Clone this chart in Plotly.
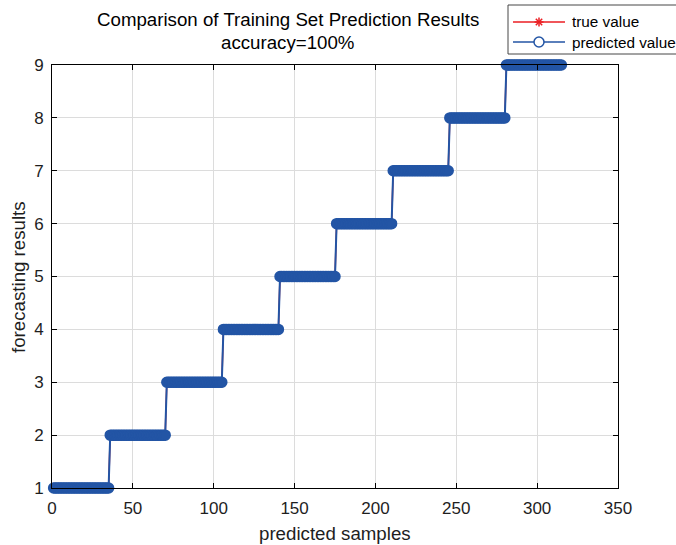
import numpy as np
import plotly.graph_objects as go

# Class labels and how many consecutive samples belong to each class
classes = [1, 2, 3, 4, 5, 6, 7, 8, 9]
class_counts = [35, 35, 35, 35, 35, 35, 35, 35, 35]

true_values = np.repeat(classes, class_counts)
predicted_values = np.repeat(classes, class_counts)  # accuracy = 100%
samples = np.arange(1, len(true_values) + 1)

x_ticks = [0, 50, 100, 150, 200, 250, 300, 350]
y_ticks = [1, 2, 3, 4, 5, 6, 7, 8, 9]

RED = "rgb(235,30,35)"
BLUE = "rgb(35,85,165)"
FONT = "Liberation Sans, Arial, Helvetica, sans-serif"

W, H = 676, 545
L, R, T, B = 52, 618, 65, 488   # plot area in pixels


def px(xp):
    """pixel x -> paper x"""
    return (xp - L) / (R - L)


def py(yp):
    """pixel y -> paper y"""
    return (B - yp) / (B - T)


fig = go.Figure()

# true value: red line with star markers
fig.add_trace(go.Scatter(
    x=samples, y=true_values, mode="lines+markers", cliponaxis=False,
    line=dict(color=RED, width=1.5),
    marker=dict(symbol="asterisk-open", size=7, color=RED, line=dict(color=RED, width=1)),
    showlegend=False,
))
# predicted value: blue line with circle markers
fig.add_trace(go.Scatter(
    x=samples, y=predicted_values, mode="lines+markers", cliponaxis=False,
    line=dict(color=BLUE, width=2),
    marker=dict(symbol="circle", size=10, color=BLUE, line=dict(color=BLUE, width=1.5)),
    showlegend=False,
))

axis_common = dict(
    showline=True, linecolor="black", linewidth=1, mirror="ticks",
    ticks="inside", ticklen=5, tickcolor="black",
    showgrid=True, gridcolor="rgb(220,220,220)", gridwidth=1,
    zeroline=False, tickfont=dict(family=FONT, size=17, color="rgb(30,30,30)"),
)

shapes = []
annotations = []

# legend box (runs past the right edge of the figure)
shapes.append(dict(type="rect", xref="paper", yref="paper",
                   x0=px(508), x1=px(690), y0=py(54), y1=py(5),
                   line=dict(color="rgb(70,70,70)", width=1), fillcolor="white", layer="above"))
# true value entry: red line + asterisk
shapes.append(dict(type="line", xref="paper", yref="paper",
                   x0=px(513), x1=px(565), y0=py(22), y1=py(22),
                   line=dict(color=RED, width=1.5), layer="above"))
for dx, dy in [(4.5, 0), (0, 4.5), (3.2, 3.2), (3.2, -3.2)]:
    shapes.append(dict(type="line", xref="paper", yref="paper",
                       x0=px(539 - dx), x1=px(539 + dx), y0=py(22 - dy), y1=py(22 + dy),
                       line=dict(color=RED, width=1.5), layer="above"))
# predicted value entry: blue line + open circle
shapes.append(dict(type="line", xref="paper", yref="paper",
                   x0=px(513), x1=px(565), y0=py(42), y1=py(42),
                   line=dict(color=BLUE, width=1.5), layer="above"))
shapes.append(dict(type="circle", xref="paper", yref="paper",
                   x0=px(534), x1=px(544), y0=py(47), y1=py(37),
                   line=dict(color=BLUE, width=1.5), fillcolor="white", layer="above"))

annotations += [
    dict(text="true value", xref="paper", yref="paper", x=px(570), y=py(22),
         xanchor="left", yanchor="middle", showarrow=False,
         font=dict(family=FONT, size=15.3, color="black")),
    dict(text="predicted value", xref="paper", yref="paper", x=px(570), y=py(42),
         xanchor="left", yanchor="middle", showarrow=False,
         font=dict(family=FONT, size=15.3, color="black")),
    # title
    dict(text="Comparison of Training Set Prediction Results", xref="paper", yref="paper",
         x=px(288), y=py(20), xanchor="center", yanchor="middle", showarrow=False,
         font=dict(family=FONT, size=18.7, color="black")),
    dict(text="accuracy=100%", xref="paper", yref="paper",
         x=px(288), y=py(43), xanchor="center", yanchor="middle", showarrow=False,
         font=dict(family=FONT, size=18.7, color="black")),
    # axis labels
    dict(text="predicted samples", xref="paper", yref="paper",
         x=px(335), y=py(533), xanchor="center", yanchor="middle", showarrow=False,
         font=dict(family=FONT, size=18.7, color="rgb(30,30,30)")),
    dict(text="forecasting results", xref="paper", yref="paper", textangle=-90,
         x=px(18), y=py(277), xanchor="center", yanchor="middle", showarrow=False,
         font=dict(family=FONT, size=18.7, color="rgb(30,30,30)")),
]

fig.update_layout(
    width=W, height=H,
    margin=dict(l=L, r=W - R, t=T, b=H - B),
    paper_bgcolor="white", plot_bgcolor="white",
    font=dict(family=FONT, color="black"),
    showlegend=False,
    xaxis=dict(range=[0, 350], tickvals=x_ticks, ticklabelstandoff=5, **axis_common),
    yaxis=dict(range=[1, 9], tickvals=y_ticks, ticklabelstandoff=4, **axis_common),
    shapes=shapes,
    annotations=annotations,
)

fig.write_html("out.html")
